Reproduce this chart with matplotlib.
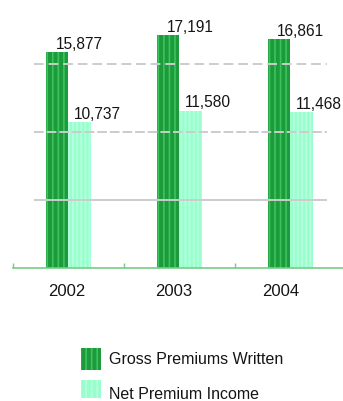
import matplotlib
matplotlib.use("Agg")
import matplotlib.pyplot as plt
from matplotlib.patches import Rectangle
import numpy as np

years = ["2002", "2003", "2004"]
gross = [15877, 17191, 16861]
net = [10737, 11580, 11468]
series_names = ["Gross Premiums Written", "Net Premium Income"]

W, H = 343, 401
DPI = 100
plt.rcParams['font.family'] = ['Liberation Sans', 'DejaVu Sans']
plt.rcParams['hatch.linewidth'] = 1.2

fig = plt.figure(figsize=(W / DPI, H / DPI), dpi=DPI)
ax = fig.add_axes([13 / W, (H - 267.5) / H, 330 / W, 267.5 / H])

x = np.arange(len(years))
bw = 0.2
GROSS_FC, GROSS_HC = "#1c9a3c", "#3cc45c"
NET_FC, NET_HC = "#98ffcc", "#b8ffe0"
TXT = "#151515"

ax.bar(x - bw / 2, gross, bw, facecolor=GROSS_FC, edgecolor=GROSS_HC, hatch="|||", linewidth=0, zorder=2)
ax.bar(x + bw / 2, net, bw, facecolor=NET_FC, edgecolor=NET_HC, hatch="||||", linewidth=0, zorder=2)

ax.set_xlim(-0.5, 2.473)
ax.set_ylim(0, 19742)

# gridlines (drawn over bars)
for v, ls in [(5000, '-'), (10000, (0, (5, 1.5))), (15000, (0, (5, 2.5)))]:
    ax.hlines(v, -0.311, 2.329, colors="#cccccc", linewidth=1.4, linestyles=ls, zorder=3)

# value labels
for i in range(len(years)):
    ax.annotate(f"{gross[i]:,}", (x[i] - bw / 2, gross[i]), xytext=(15.5, 2.2), textcoords="offset points",
                ha="center", va="baseline", fontsize=11.2, color=TXT, zorder=4)
    ax.annotate(f"{net[i]:,}", (x[i] + bw / 2, net[i]), xytext=(12.5, 2.5), textcoords="offset points",
                ha="center", va="baseline", fontsize=11.2, color=TXT, zorder=4)

for s in ["left", "top", "right"]:
    ax.spines[s].set_visible(False)
ax.spines["bottom"].set_color("#77cc88")
ax.spines["bottom"].set_linewidth(1.2)
ax.set_yticks([])
ax.set_xticks([-0.02, 0.945, 1.915], years)
ax.tick_params(axis="x", which="major", length=0, pad=12, labelsize=12, labelcolor=TXT)
ax.set_xticks([-0.5, 0.5, 1.5], minor=True)
ax.tick_params(axis="x", which="minor", direction="in", length=3.5, width=1, color="#77cc88")

# legend drawn manually
leg_items = [(series_names[0], GROSS_FC, GROSS_HC, 348, 370, 364),
             (series_names[1], NET_FC, NET_HC, 380, 398, 399)]
for name, fc, hc, top, bot, base in leg_items:
    r = Rectangle((81 / W, (H - bot) / H), 20 / W, (bot - top) / H, transform=fig.transFigure,
                  facecolor=fc, edgecolor=hc, hatch="|||", linewidth=0)
    fig.add_artist(r)
    fig.text(109 / W, (H - base) / H, name, ha="left", va="baseline", fontsize=11.5, color=TXT)

fig.savefig("out.png", dpi=DPI)
